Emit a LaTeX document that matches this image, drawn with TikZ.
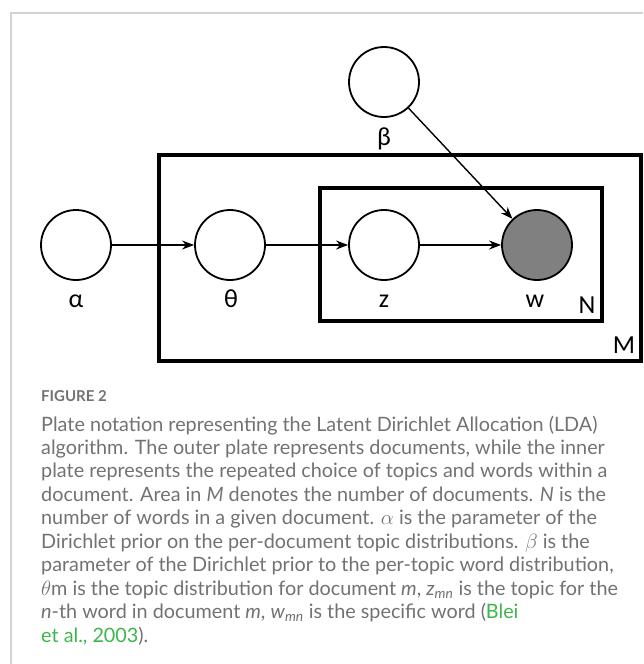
\documentclass[tikz,border=0pt]{standalone}
\usepackage{fontspec}
\setmainfont{Lato}
\newfontfamily\lblfont{Carlito}
\usetikzlibrary{arrows.meta}
\definecolor{captxt}{HTML}{727272}
\definecolor{capgreen}{HTML}{3DB54A}
\definecolor{framegray}{HTML}{D2D2D2}
\definecolor{obsfill}{HTML}{808080}
\tikzset{
  var/.style={circle, draw=black, line width=1.8pt, minimum size=70pt, inner sep=0pt},
  obs/.style={var, fill=obsfill},
  lbl/.style={font=\lblfont\fontsize{26}{28}\selectfont, inner sep=0pt, anchor=base},
  plate/.style={draw=black, line width=3.2pt},
  edge/.style={line width=1.4pt, -{Stealth[length=12pt,width=9pt]}},
  capline/.style={anchor=base west, inner sep=0pt, text=captxt, font=\fontsize{19.8}{22}\selectfont},
}
\begin{document}
\begin{tikzpicture}[x=1pt,y=-1pt]
\useasboundingbox (0,0) rectangle (643,664);
% frame
\draw[framegray, line width=1.3pt] (643,13) -- (11,13) -- (11,664);
% plates
\draw[plate] (159,155) rectangle (641,361);
\draw[plate] (320,188) rectangle (602,321);
% nodes
\node[var] (alpha) at (76,245) {};
\node[var] (theta) at (230,245) {};
\node[var] (z) at (384,245) {};
\node[obs] (w) at (537,245) {};
\node[var] (beta) at (384,82) {};
% labels
\node[lbl] (la) at (76,307) {α};
\node[lbl] (lt) at (231,307) {θ};
\node[lbl] (lz) at (384,307) {z};
\node[lbl] (lw) at (535,307) {w};
\node[lbl] (lb) at (384,145) {β};
\node[lbl] (lN) at (587,313) {N};
\node[lbl] (lM) at (624,353) {M};
% edges
\draw[edge] (alpha) -- (theta);
\draw[edge] (theta) -- (z);
\draw[edge] (z) -- (w);
\draw[edge] (beta) -- (w);
% caption
\node[anchor=base west, inner sep=0pt, text=captxt, font=\bfseries\fontsize{15}{16}\selectfont] (fig) at (41,401) {FIGURE 2};
\node[capline] (c1) at (41,431) {Plate notation representing the Latent Dirichlet Allocation (LDA)};
\node[capline] (c2) at (41,454.4) {algorithm. The outer plate represents documents, while the inner};
\node[capline] (c3) at (41,477.9) {plate represents the repeated choice of topics and words within a};
\node[capline] (c4) at (41,501.3) {document. Area in \textit{M} denotes the number of documents. \textit{N} is the};
\node[capline] (c5) at (41,524.8) {number of words in a given document. $\alpha$ is the parameter of the};
\node[capline] (c6) at (41,548.2) {Dirichlet prior on the per-document topic distributions. $\beta$ is the};
\node[capline] (c7) at (41,571.6) {parameter of the Dirichlet prior to the per-topic word distribution,};
\node[capline] (c8) at (41,595.1) {$\theta$m is the topic distribution for document \textit{m}, \textit{z}\textsubscript{\textit{mn}} is the topic for the};
\node[capline] (c9) at (41,618.5) {\textit{n}-th word in document \textit{m}, \textit{w}\textsubscript{\textit{mn}} is the specific word (\textcolor{capgreen}{Blei}};
\node[capline] (c10) at (41,642) {\textcolor{capgreen}{et al., 2003}).};
\end{tikzpicture}
\end{document}
